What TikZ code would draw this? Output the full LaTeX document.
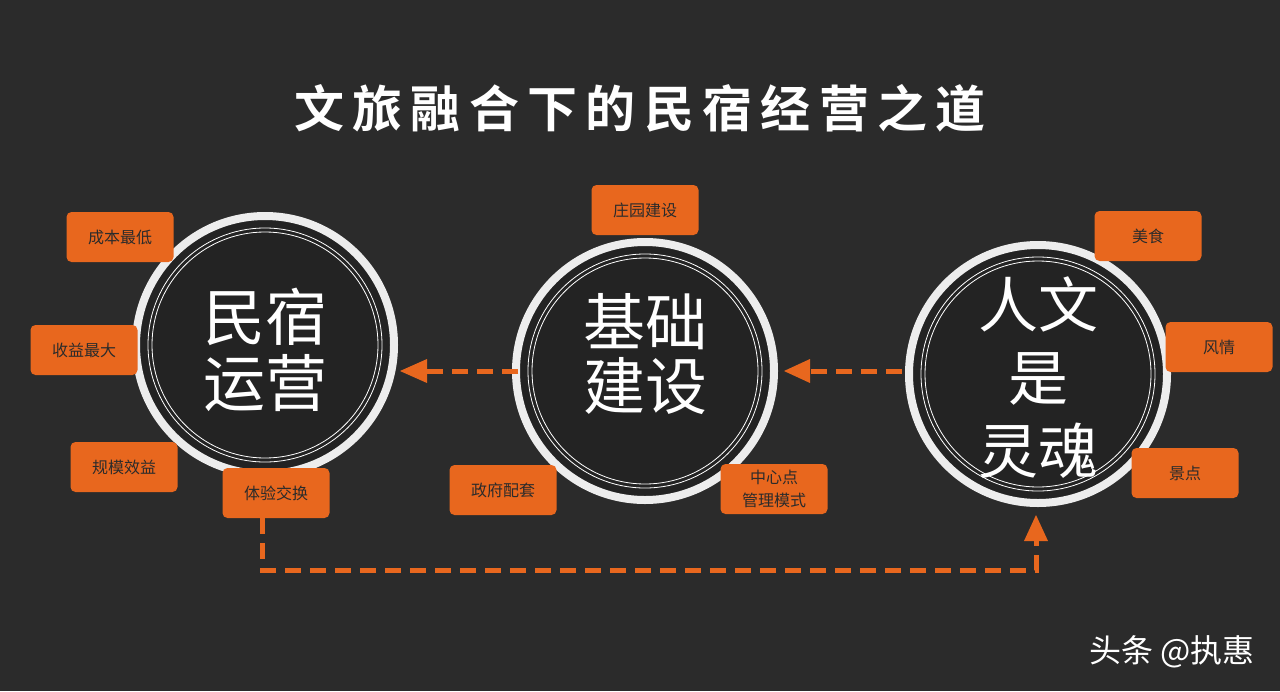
\documentclass[tikz,border=0pt]{standalone}
\usepackage{fontspec}
\setmainfont{Noto Sans CJK SC}
\newfontfamily\cjkb{Noto Sans CJK SC Bold}
\usetikzlibrary{arrows.meta}
\definecolor{bg}{HTML}{2B2B2B}
\definecolor{cf}{HTML}{232323}
\definecolor{org}{HTML}{E8671E}
\definecolor{ring}{HTML}{EDEDED}
\tikzset{
 tag/.style={fill=org,rounded corners=5pt,minimum width=107pt,minimum height=50pt,text=bg,font=\fontsize{16}{19}\selectfont,align=center,inner sep=0pt},
 bigc/.style={circle,fill=cf,draw=ring,line width=8pt,minimum size=258pt},
 ctext/.style={text=white,font=\fontsize{62}{70}\selectfont,align=center},
 flow/.style={org,line width=5pt,dash pattern=on 16pt off 9pt},
}
\begin{document}
\begin{tikzpicture}[x=1pt,y=-1pt]
\fill[bg] (0,0) rectangle (1280,691);
\useasboundingbox (0,0) rectangle (1280,691);
\node[text=white,font=\cjkb\fontsize{50}{56}\selectfont] (title) at (640,108) {文\,旅\,融\,合\,下\,的\,民\,宿\,经\,营\,之\,道};
\foreach \n/\x/\y in {L/265/345,M/645/371,R/1038/374}{
 \node[bigc] (\n) at (\x,\y) {};
 \draw[white,line width=0.8pt] (\x,\y) circle (117);
 \draw[white,line width=0.8pt] (\x,\y) circle (113);
}
\node[ctext] (Lt) at (265,350) {民宿\\[-4pt]运营};
\node[ctext] (Mt) at (645,354) {基础\\[-6pt]建设};
\node[ctext,font=\fontsize{60}{73}\selectfont] (Rt) at (1038,378) {人文\\是\\灵魂};
\node[tag] (a1) at (120,237) {成本最低};
\node[tag] (a2) at (84,350) {收益最大};
\node[tag] (a3) at (124,467) {规模效益};
\node[tag] (a4) at (276,493) {体验交换};
\node[tag] (b1) at (645,210) {庄园建设};
\node[tag] (b2) at (503,490) {政府配套};
\node[tag,font=\fontsize{16}{23}\selectfont] (b3) at (774,489) {中心点\\管理模式};
\node[tag] (c1) at (1148,236) {美食};
\node[tag] (c2) at (1219,347) {风情};
\node[tag] (c3) at (1185,473) {景点};
\coordinate (m1) at (518,371); \coordinate (t1) at (425,371);
\draw[flow] (m1) -- (t1);
\fill[org] (400,371) -- (427,359) -- (427,383) -- cycle;
\coordinate (r1) at (902,371); \coordinate (t2) at (808,371);
\draw[flow] (r1) -- (t2);
\fill[org] (784,371) -- (810,359) -- (810,383) -- cycle;
\coordinate (s1) at (262,518); \coordinate (s2) at (262,570);
\coordinate (s3) at (1036,570); \coordinate (s4) at (1036,540);
\draw[flow] (s1) -- (s2) -- (s3) -- (s4);
\fill[org] (1036,515) -- (1024,541) -- (1048,541) -- cycle;
\node[text=white,font=\fontsize{32}{36}\selectfont] (wm) at (1172,652) {头条 @执惠};
\end{tikzpicture}
\end{document}
